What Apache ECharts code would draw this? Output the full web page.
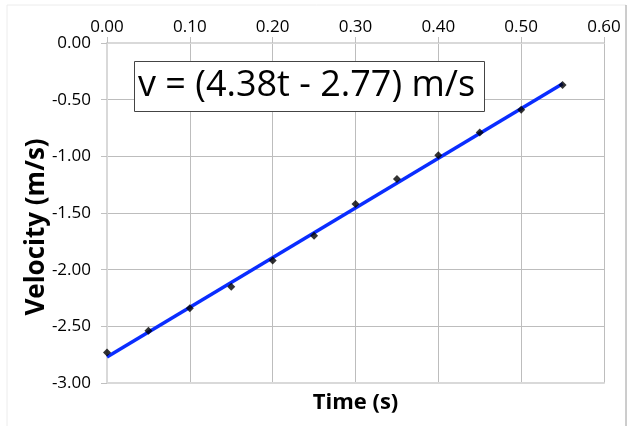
<!DOCTYPE html>
<html>
<head>
<meta charset="utf-8">
<script src="https://cdn.jsdelivr.net/npm/echarts@6/dist/echarts.min.js"></script>
<style>
html,body{margin:0;padding:0;background:#fff;}
#chart{width:629px;height:426px;}
</style>
</head>
<body>
<div id="chart"></div>
<script>
var times = [0.00, 0.05, 0.10, 0.15, 0.20, 0.25, 0.30, 0.35, 0.40, 0.45, 0.50, 0.55];
var velocities = [-2.73, -2.54, -2.34, -2.15, -1.92, -1.70, -1.42, -1.20, -0.99, -0.79, -0.59, -0.37];
var fitTimes = [0.00, 0.55];
var fitVelocities = [-2.77, -0.36];
var equationText = 'v = (4.38t - 2.77) m/s';
var xTitle = 'Time (s)';
var yTitle = 'Velocity (m/s)';

var chart = echarts.init(document.getElementById('chart'), null, {renderer: 'canvas'});
var font = 'Open Sans';
var option = {
  backgroundColor: '#fff',
  animation: false,
  grid: {left: 107, right: 25, top: 43, bottom: 43},
  xAxis: [{
    type: 'value', position: 'top', min: 0, max: 0.6, interval: 0.1,
    axisLine: {show: true, lineStyle: {color: '#d9d9d9', width: 2}},
    axisTick: {show: true, length: 6, lineStyle: {color: '#c0c0c0'}},
    axisLabel: {fontFamily: font, fontSize: 17, color: '#000', margin: 7,
      formatter: function (v) { return v.toFixed(2); }},
    splitLine: {show: true, lineStyle: {color: '#bdbdbd', width: 1}}
  }, {
    type: 'value', position: 'bottom', min: 0, max: 0.6, interval: 0.1,
    name: xTitle, nameLocation: 'middle', nameGap: 9,
    nameTextStyle: {fontFamily: font, fontSize: 22, fontWeight: 'bold', color: '#000'},
    axisLine: {show: true, lineStyle: {color: '#d9d9d9', width: 2}},
    axisTick: {show: false}, axisLabel: {show: false}, splitLine: {show: false}
  }],
  yAxis: {
    type: 'value', min: -3, max: 0, interval: 0.5,
    axisLine: {show: true, lineStyle: {color: '#d9d9d9', width: 2}},
    axisTick: {show: true, length: 6, lineStyle: {color: '#c0c0c0'}},
    axisLabel: {fontFamily: font, fontSize: 17, color: '#000', margin: 16,
      formatter: function (v) { return v.toFixed(2); }},
    splitLine: {show: true, lineStyle: {color: '#bdbdbd', width: 1}}
  },
  series: [{
    type: 'line', xAxisIndex: 0,
    data: fitTimes.map(function (t, i) { return [t, fitVelocities[i]]; }),
    symbol: 'none', lineStyle: {color: '#0a2dff', width: 3.5}, z: 2
  }, {
    type: 'scatter', xAxisIndex: 0,
    data: times.map(function (t, i) { return [t, velocities[i]]; }),
    symbol: 'diamond', symbolSize: 8, itemStyle: {color: '#000'}, z: 3
  }],
  graphic: [
    {type: 'line', shape: {x1: 7, y1: 5, x2: 626, y2: 5}, style: {stroke: '#ececec', lineWidth: 1}, silent: true},
    {type: 'line', shape: {x1: 7, y1: 5, x2: 7, y2: 426}, style: {stroke: '#ececec', lineWidth: 1}, silent: true},
    {type: 'line', shape: {x1: 626, y1: 5, x2: 626, y2: 426}, style: {stroke: '#9a9a9a', lineWidth: 1}, silent: true},
    {type: 'text', x: 37, y: 227, rotation: Math.PI / 2,
      style: {text: yTitle, fontFamily: font, fontSize: 26, fontWeight: 'bold', fill: '#000', align: 'center', verticalAlign: 'middle'}},
    {type: 'rect', shape: {x: 134.5, y: 61.5, width: 350, height: 50},
      style: {fill: '#fff', stroke: '#444', lineWidth: 1}, z: 10},
    {type: 'text', x: 138, y: 86, z: 11,
      style: {text: equationText, fontFamily: font, fontSize: 36, fill: '#000', verticalAlign: 'middle', align: 'left'}}
  ]
};
chart.setOption(option);
</script>
</body>
</html>
